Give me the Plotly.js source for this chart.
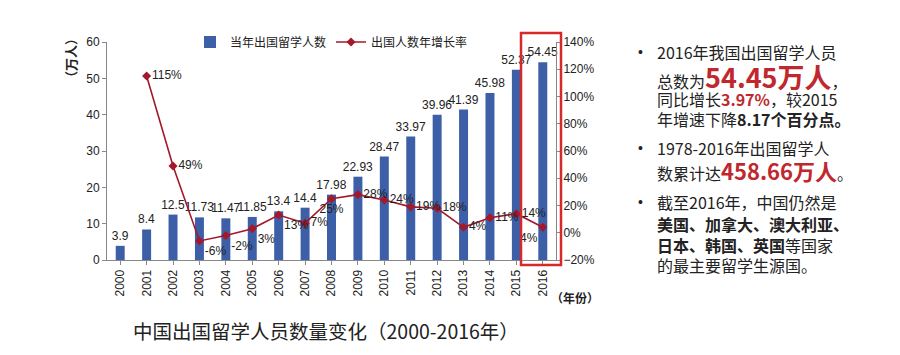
<!DOCTYPE html>
<html><head><meta charset="utf-8">
<script src="https://cdn.plot.ly/plotly-3.0.1.min.js"></script>
<style>body{margin:0;background:#fff}#c{width:900px;height:355px}</style>
</head><body><div id="c"></div>
<script>
const years = ['2000','2001','2002','2003','2004','2005','2006','2007','2008','2009','2010','2011','2012','2013','2014','2015','2016'];
const students = [3.9,8.4,12.5,11.73,11.47,11.85,13.4,14.4,17.98,22.93,28.47,33.97,39.96,41.39,45.98,52.37,54.45];
const growthYears = years.slice(1);
const growth = [115,49,-6,-2,3,13,7,25,28,24,19,18,4,11,14,4];
const growthLabels = growth.map(v => v + '%');
const growthPos = ['middle right','middle right','bottom right','bottom right','bottom right','bottom right','middle right','bottom center','middle right','middle right','middle right','middle right','middle right','middle right','middle right','bottom left'];

const FONT = 'Liberation Sans, Arial, Noto Sans CJK SC, sans-serif';
const CJK = 'Noto Sans CJK SC, sans-serif';

const traces = [
  {type:'bar', x:years, y:students, name:'当年出国留学人数', marker:{color:'#3d5fa8'}, width:0.34,
   text:students.map(String), textposition:'outside', constraintext:'none', textfont:{size:12, color:'#222', family:FONT}, cliponaxis:false},
  {type:'scatter', mode:'lines+markers+text', x:growthYears, y:growth, yaxis:'y2', name:'出国人数年增长率',
   line:{color:'#a3182b', width:1.6}, marker:{symbol:'diamond', size:7, color:'#a3182b'},
   text:growthLabels, textposition:growthPos, textfont:{size:12, color:'#222', family:FONT}, cliponaxis:false}
];

const right = [
  {t:'2016年我国出国留学人员', y:52, bullet:true},
  {t:'总数为<span style="color:#c0282d;font-size:27px"><b>54.45万人</b></span>，', y:76},
  {t:'同比增长<span style="color:#c0282d"><b>3.97%</b></span>，较2015', y:99},
  {t:'年增速下降<b>8.17个百分点。</b>', y:119},
  {t:'1978-2016年出国留学人', y:148, bullet:true},
  {t:'数累计达<span style="color:#c0282d;font-size:22px"><b>458.66万人</b></span>。', y:170},
  {t:'截至2016年，中国仍然是', y:202, bullet:true},
  {t:'<b>美国、加拿大、澳大利亚、</b>', y:224},
  {t:'<b>日本、韩国、英国</b>等国家', y:245},
  {t:'的最主要留学生源国。', y:265}
];

const W = 900, H = 355, L = 107, R = 344, T = 42, B = 95;
const px = x => (x - L) / (W - L - R);
const py = y => (H - B - y) / (H - T - B);

const annotations = [
  {text:'<b>（万人）</b>', xref:'paper', yref:'paper', x:px(70), y:py(58), xanchor:'center', yanchor:'middle', textangle:-90, showarrow:false, font:{size:13, family:CJK, color:'#222'}},
  {text:'<b>（年份）</b>', xref:'paper', yref:'paper', x:px(575), y:py(297), xanchor:'center', yanchor:'middle', showarrow:false, font:{size:12, family:CJK, color:'#222'}},
  {text:'中国出国留学人员数量变化（2000-2016年）', xref:'paper', yref:'paper', x:px(326), y:py(330), xanchor:'center', yanchor:'middle', showarrow:false, font:{size:19.5, family:CJK, color:'#222'}}
];
right.forEach(r => {
  annotations.push({text:r.t, xref:'paper', yref:'paper', x:px(655), y:py(r.y), xanchor:'left', yanchor:'middle', showarrow:false, font:{size:16, family:CJK, color:'#222'}});
  if (r.bullet) annotations.push({text:'•', xref:'paper', yref:'paper', x:px(640), y:py(r.y), xanchor:'center', yanchor:'middle', showarrow:false, font:{size:14, family:FONT, color:'#222'}});
});

const layout = {
  width:W, height:H, margin:{l:L, r:R, t:T, b:B, autoexpand:false}, paper_bgcolor:'#fff', plot_bgcolor:'#fff',
  font:{family:FONT, color:'#222', size:12},
  showlegend:true,
  legend:{orientation:'h', x:px(190), y:1.0, xanchor:'left', yanchor:'middle', font:{size:12, family:CJK}, bgcolor:'rgba(0,0,0,0)', itemwidth:30, tracegroupgap:0},
  bargap:0.66,
  xaxis:{type:'category', range:[-0.5,16.5], autorange:false, tickangle:-90, showline:true, linecolor:'#888', ticks:'outside', ticklen:4, tickcolor:'#888', showgrid:false, tickfont:{size:12}, zeroline:false},
  yaxis:{range:[0,60], dtick:10, showline:true, linecolor:'#888', ticks:'outside', ticklen:4, tickcolor:'#888', showgrid:false, zeroline:false, tickfont:{size:12}},
  yaxis2:{range:[-20,140], dtick:20, ticksuffix:'%', overlaying:'y', side:'right', showline:true, linecolor:'#888', ticks:'outside', ticklen:4, tickcolor:'#888', showgrid:false, zeroline:false, tickfont:{size:12}},
  shapes:[{type:'rect', xref:'paper', yref:'paper', x0:px(521), x1:px(561), y0:py(265), y1:py(33), line:{color:'#d42a2a', width:2.5}}],
  annotations:annotations
};
Plotly.newPlot('c', traces, layout, {displayModeBar:false, staticPlot:true});
</script></body></html>
